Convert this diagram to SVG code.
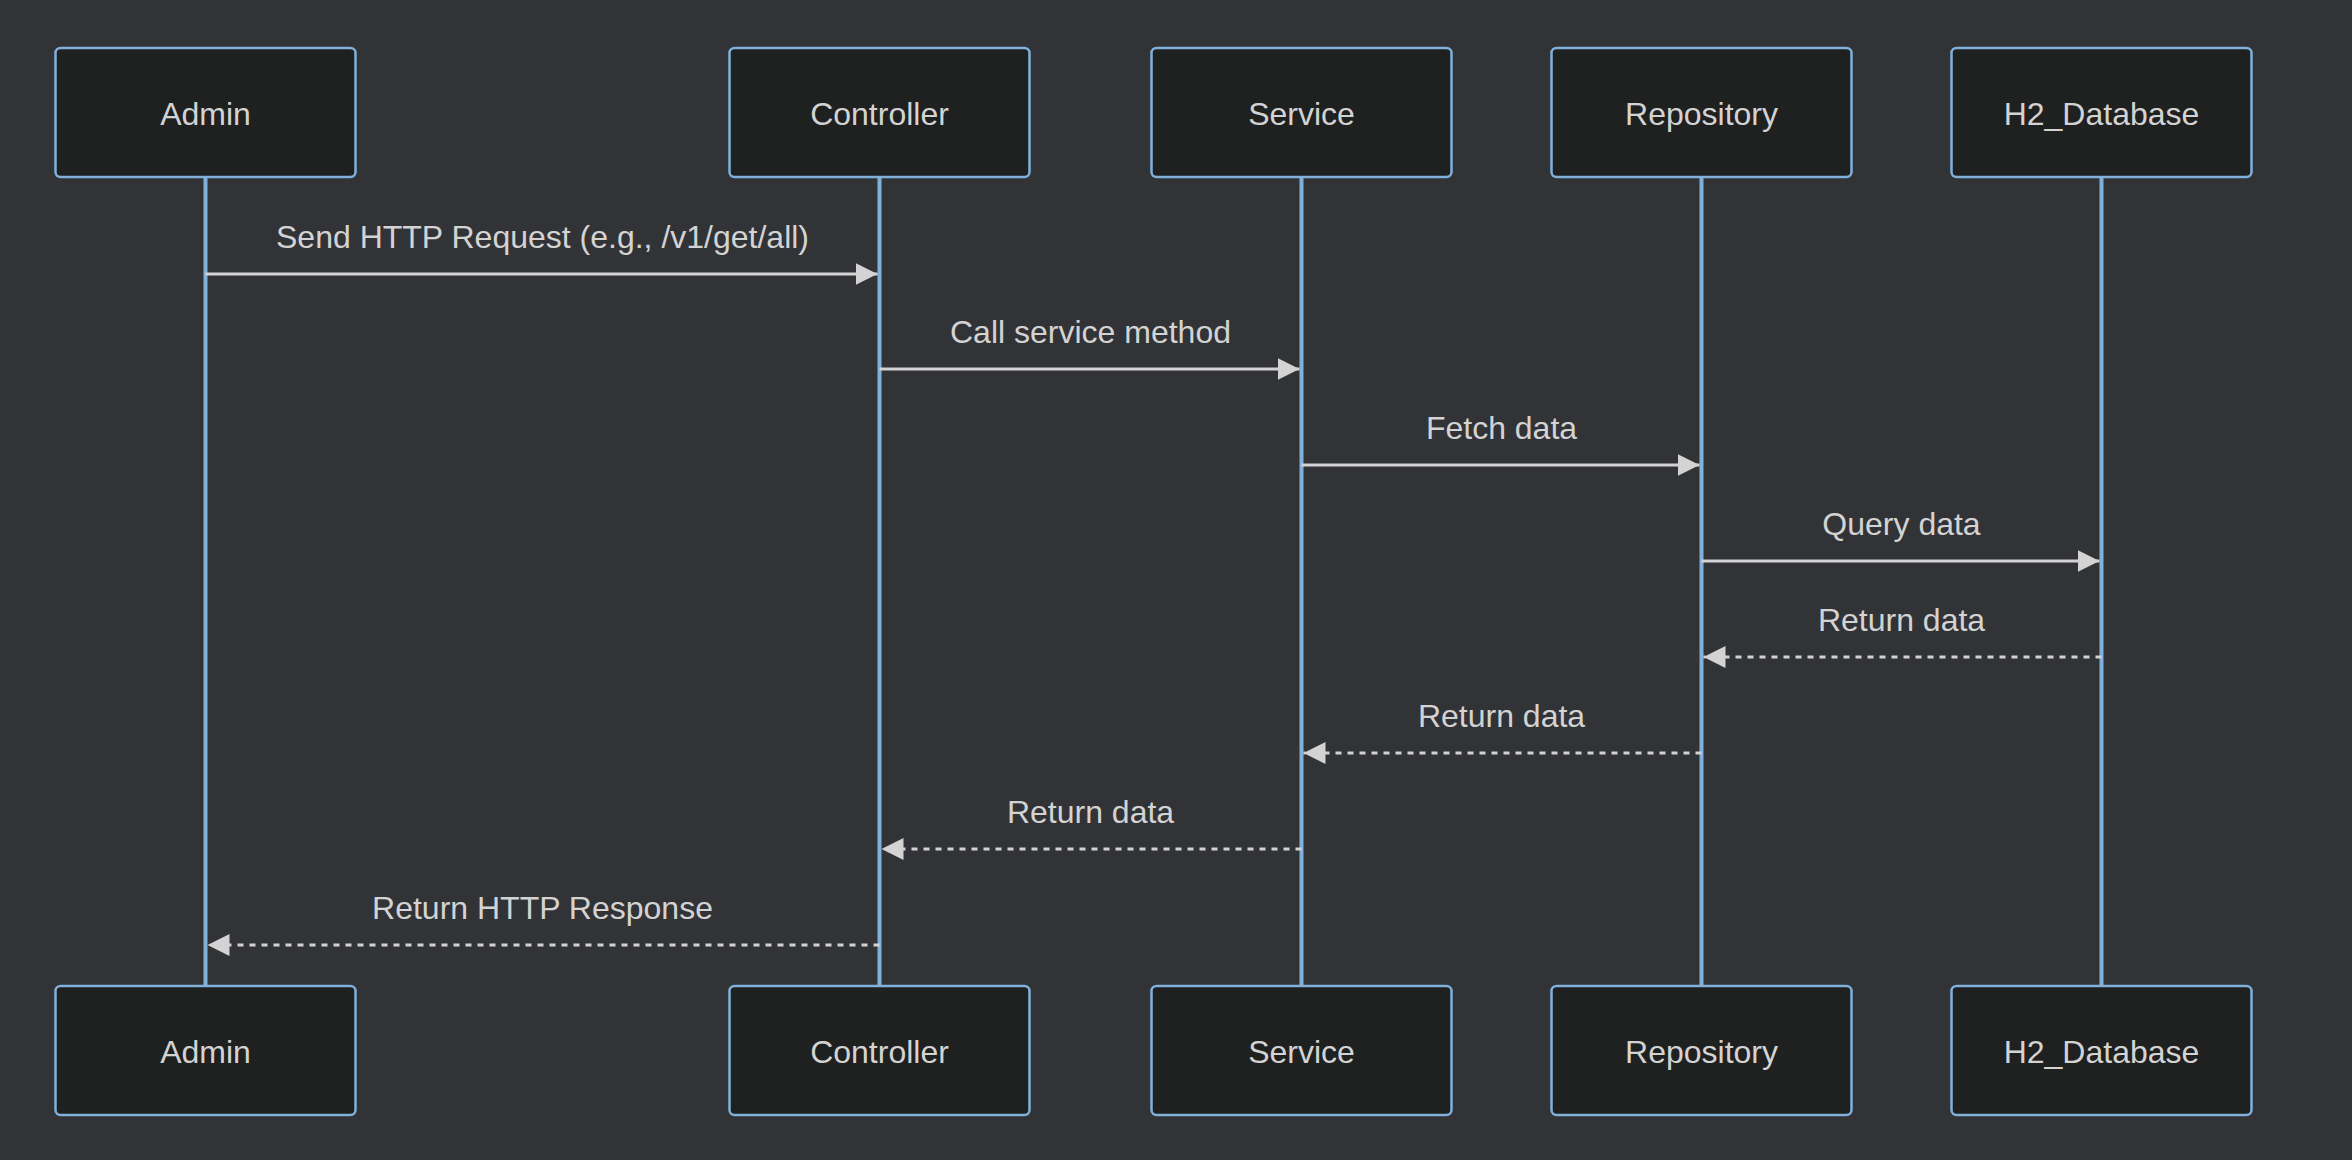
<svg xmlns="http://www.w3.org/2000/svg" width="2352" height="1160" viewBox="0 0 2352 1160">
<defs>
<style>
.bg{fill:#323337}
.actor rect{fill:#1f2020;stroke:#81B1DB;stroke-width:2.5}
.actor text{fill:#d3d3d3;font-family:"Liberation Sans",Arial,sans-serif;font-size:32px;text-anchor:middle}
.lifeline{stroke:#81B1DB;stroke-width:4}
.msg{stroke:#d3d3d3;stroke-width:3;fill:none}
.dashed{stroke-dasharray:6,6}
.label{fill:#d3d3d3;font-family:"Liberation Sans",Arial,sans-serif;font-size:32px;text-anchor:middle}
</style>
<marker id="arrow" markerUnits="userSpaceOnUse" markerWidth="24" markerHeight="24" refX="22" refY="11" orient="auto" viewBox="0 0 24 24">
<path d="M0,0 L22,11 L0,22 z" fill="#d3d3d3"/>
</marker>
</defs>
<rect class="bg" x="0" y="0" width="2352" height="1160"/>
<g id="lifelines">
<line class="lifeline" x1="205.5" y1="177" x2="205.5" y2="986"/>
<line class="lifeline" x1="879.5" y1="177" x2="879.5" y2="986"/>
<line class="lifeline" x1="1301.5" y1="177" x2="1301.5" y2="986"/>
<line class="lifeline" x1="1701.5" y1="177" x2="1701.5" y2="986"/>
<line class="lifeline" x1="2101.5" y1="177" x2="2101.5" y2="986"/>
</g>
<g id="admin-top" class="actor"><rect x="55.5" y="48" width="300" height="129" rx="5"/><text x="205.5" y="125">Admin</text></g>
<g id="controller-top" class="actor"><rect x="729.5" y="48" width="300" height="129" rx="5"/><text x="879.5" y="125">Controller</text></g>
<g id="service-top" class="actor"><rect x="1151.5" y="48" width="300" height="129" rx="5"/><text x="1301.5" y="125">Service</text></g>
<g id="repository-top" class="actor"><rect x="1551.5" y="48" width="300" height="129" rx="5"/><text x="1701.5" y="125">Repository</text></g>
<g id="h2-top" class="actor"><rect x="1951.5" y="48" width="300" height="129" rx="5"/><text x="2101.5" y="125">H2_Database</text></g>
<g id="admin-bottom" class="actor"><rect x="55.5" y="986" width="300" height="129" rx="5"/><text x="205.5" y="1063">Admin</text></g>
<g id="controller-bottom" class="actor"><rect x="729.5" y="986" width="300" height="129" rx="5"/><text x="879.5" y="1063">Controller</text></g>
<g id="service-bottom" class="actor"><rect x="1151.5" y="986" width="300" height="129" rx="5"/><text x="1301.5" y="1063">Service</text></g>
<g id="repository-bottom" class="actor"><rect x="1551.5" y="986" width="300" height="129" rx="5"/><text x="1701.5" y="1063">Repository</text></g>
<g id="h2-bottom" class="actor"><rect x="1951.5" y="986" width="300" height="129" rx="5"/><text x="2101.5" y="1063">H2_Database</text></g>
<g id="connectors">
<line class="msg" x1="205.5" y1="274" x2="877.5" y2="274" marker-end="url(#arrow)"/>
<text class="label" x="542.5" y="248">Send HTTP Request (e.g., /v1/get/all)</text>
<line class="msg" x1="879.5" y1="369" x2="1299.5" y2="369" marker-end="url(#arrow)"/>
<text class="label" x="1090.5" y="343">Call service method</text>
<line class="msg" x1="1301.5" y1="465" x2="1699.5" y2="465" marker-end="url(#arrow)"/>
<text class="label" x="1501.5" y="439">Fetch data</text>
<line class="msg" x1="1701.5" y1="561" x2="2099.5" y2="561" marker-end="url(#arrow)"/>
<text class="label" x="1901.5" y="535">Query data</text>
<line class="msg dashed" x1="2101.5" y1="657" x2="1703.5" y2="657" marker-end="url(#arrow)"/>
<text class="label" x="1901.5" y="631">Return data</text>
<line class="msg dashed" x1="1701.5" y1="753" x2="1303.5" y2="753" marker-end="url(#arrow)"/>
<text class="label" x="1501.5" y="727">Return data</text>
<line class="msg dashed" x1="1301.5" y1="849" x2="881.5" y2="849" marker-end="url(#arrow)"/>
<text class="label" x="1090.5" y="823">Return data</text>
<line class="msg dashed" x1="879.5" y1="945" x2="207.5" y2="945" marker-end="url(#arrow)"/>
<text class="label" x="542.5" y="919">Return HTTP Response</text>
</g>
</svg>
